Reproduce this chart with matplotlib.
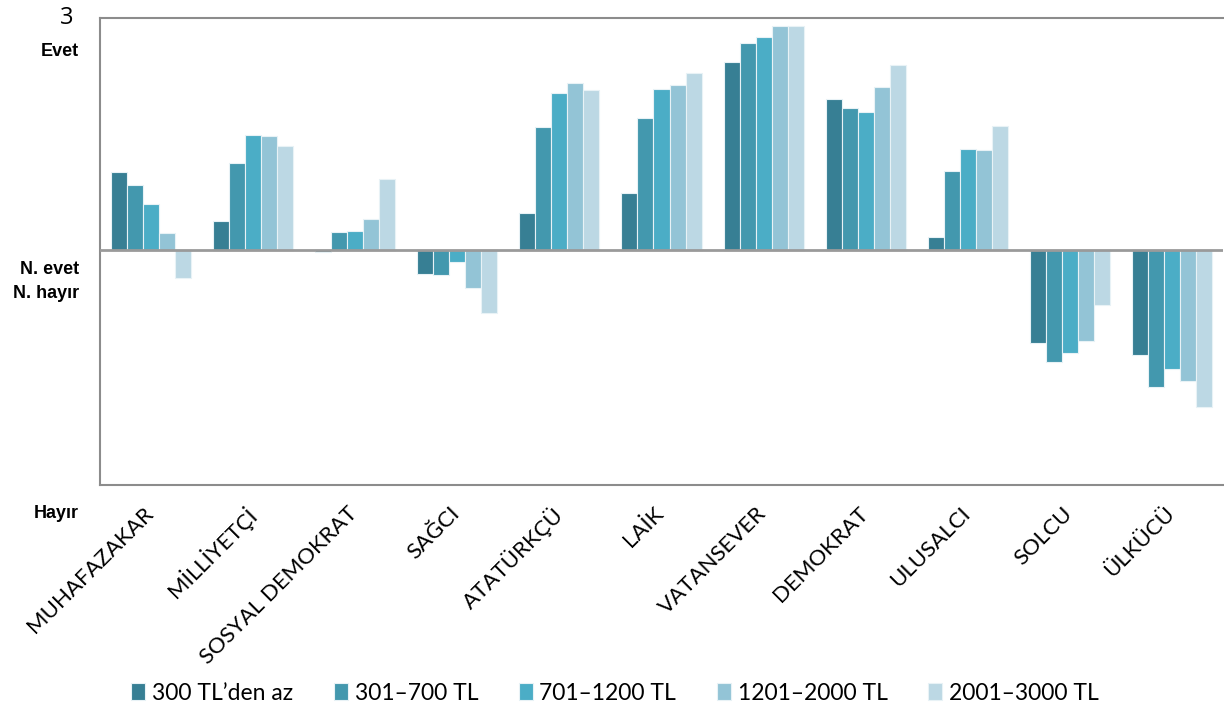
import numpy as np
import matplotlib.pyplot as plt
import matplotlib.transforms as mtransforms

kategoriler = ['MUHAFAZAKAR', 'MİLLİYETÇİ', 'SOSYAL DEMOKRAT', 'SAĞCI', 'ATATÜRKÇÜ',
               'LAİK', 'VATANSEVER', 'DEMOKRAT', 'ULUSALCI', 'SOLCU', 'ÜLKÜCÜ']
gelir_gruplari = ['300 TL’den az', '301–700 TL', '701–1200 TL', '1201–2000 TL', '2001–3000 TL']

az_300 = [1.01, 0.38, -0.03, -0.31, 0.48, 0.74, 2.43, 1.95, 0.17, -1.20, -1.36]
g_301_700 = [0.84, 1.13, 0.23, -0.32, 1.59, 1.71, 2.68, 1.84, 1.02, -1.45, -1.77]
g_701_1200 = [0.60, 1.49, 0.25, -0.16, 2.03, 2.08, 2.76, 1.79, 1.31, -1.33, -1.54]
g_1201_2000 = [0.22, 1.47, 0.40, -0.49, 2.16, 2.13, 2.90, 2.11, 1.29, -1.18, -1.69]
g_2001_3000 = [-0.36, 1.35, 0.92, -0.81, 2.07, 2.29, 2.90, 2.39, 1.60, -0.71, -2.03]

seriler = [az_300, g_301_700, g_701_1200, g_1201_2000, g_2001_3000]
renkler = ['#377f94', '#4398ae', '#4badc6', '#93c4d6', '#bcd8e4']

fig = plt.figure(figsize=(12.24, 7.11), dpi=100)
ax = fig.add_axes([100 / 1224, 1 - 485 / 711, 1123 / 1224, 467 / 711])

x = np.arange(len(kategoriler))
w = 0.157
for i, (vals, c) in enumerate(zip(seriler, renkler)):
    ax.bar(x + (i - 2) * w, vals, w, color=c, edgecolor='#e8f2f6', linewidth=0.8,
           label=gelir_gruplari[i], zorder=2)

ax.axhline(0, color='#9a9a9a', linewidth=2, zorder=3)
ax.set_xlim(-0.5, 10.5)
ax.set_ylim(-3.04, 3)
ax.set_yticks([])
for s in ['left', 'top', 'bottom']:
    ax.spines[s].set_color('#8c8c8c')
    ax.spines[s].set_linewidth(1.5)
ax.spines['right'].set_visible(False)

ax.set_xticks(x)
ax.set_xticklabels(kategoriler, rotation=45, ha='right', va='top',
                   rotation_mode='anchor', fontsize=16, family='Lato')
ax.tick_params(axis='x', length=0, pad=13)
offset = mtransforms.ScaledTranslation(-8 / 100, 0, fig.dpi_scale_trans)
for lab in ax.get_xticklabels():
    lab.set_transform(lab.get_transform() + offset)

# y-axis labels
fig.text(73 / 1224, 1 - 18 / 711, '3', ha='right', va='center', fontsize=17, family='Open Sans')
for txt, yp in [('Evet', 52), ('N. evet', 269), ('N. hayır', 293), ('Hayır', 514)]:
    fig.text(79 / 1224, 1 - yp / 711, txt, ha='right', va='center', fontsize=13,
             fontweight='bold', family='Liberation Sans')

fig.legend(loc='center', bbox_to_anchor=(615 / 1224, 1 - 693 / 711), ncol=5, frameon=False,
           prop={'family': 'Lato', 'size': 16.5}, handlelength=0.6, handleheight=0.7,
           handletextpad=0.3, columnspacing=1.78)

fig.savefig('out.png', dpi=100)
